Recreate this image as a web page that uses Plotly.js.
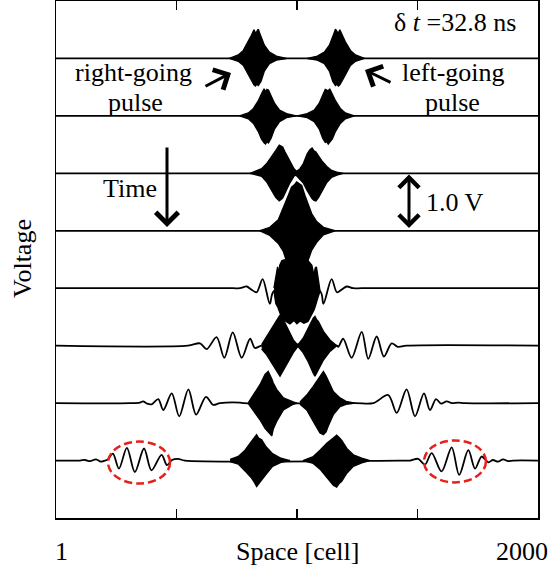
<!DOCTYPE html>
<html>
<head>
<meta charset="utf-8">
<script src="https://cdn.plot.ly/plotly-3.0.1.min.js"></script>
<style>html,body{margin:0;padding:0;background:#fff;}#chart{width:551px;height:578px;}</style>
</head>
<body>
<div id="chart"></div>
<script>
// ---- data (x in cells, voltage offset from each trace's baseline, volts) ----
const bases = [8, 7, 6, 5, 4, 3, 2, 1];   // trace baselines (1.0 V spacing), top = earliest time
const tickCells = [500, 1000, 1500];
const axisEndLabels = ["1", "2000"];

// low-frequency part / baseline of each trace
const flatX = [1, 2000];
const flatY = [0, 0];
const line5X = [1, 735, 764, 792, 810, 833, 858, 888, 905, 1096, 1110, 1144, 1166, 1187, 1207, 1233, 1269, 2000];
const line5Y = [0, 0, 0, 0.03, -0.02, -0.07, 0.16, -0.27, -0.05, -0.05, -0.27, 0.16, -0.07, -0.02, 0.03, 0, 0, 0];
const line6X = [1, 548, 598, 626, 667, 699, 734, 771, 806, 826, 854, 1165, 1172, 1192, 1227, 1269, 1296, 1331, 1361, 1393, 1419, 1455, 2000];
const line6Y = [0, 0, 0.04, -0.06, 0.15, -0.21, 0.23, -0.21, 0.12, -0.04, 0, 0, -0.02, 0.12, -0.21, 0.24, -0.23, 0.16, -0.19, 0.04, -0.02, 0, 0];
const line7X = [1, 308, 349, 362, 379, 398, 425, 446, 481, 512, 550, 582, 623, 653, 681, 764, 780, 1241, 1317, 1379, 1414, 1455, 1490, 1527, 1552, 1577, 1598, 1621, 1643, 1669, 1697, 2000];
const line7Y = [0, 0, 0.01, 0.03, -0.01, -0.02, 0.07, -0.12, 0.17, -0.23, 0.24, -0.2, 0.11, -0.03, 0, 0.01, 0, 0, 0, 0.14, -0.17, 0.24, -0.23, 0.17, -0.12, 0.07, -0.01, 0.03, 0, 0.01, 0, 0];
const line8X = [1, 100, 121, 142, 167, 187, 204, 216, 237, 262, 295, 328, 366, 397, 439, 461, 482, 507, 536, 1428, 1469, 1503, 1531, 1559, 1600, 1642, 1673, 1711, 1739, 1766, 1794, 1813, 1834, 1855, 1876, 1897, 2000];
const line8Y = [0, 0, 0.01, -0.01, 0.02, -0.02, 0, 0.02, 0.12, -0.14, 0.22, -0.2, 0.21, -0.17, 0.1, -0.08, 0.01, 0.03, 0, 0, 0, 0.03, -0.07, 0.13, -0.19, 0.23, -0.25, 0.18, -0.14, 0.07, -0.03, 0.01, -0.02, 0.02, -0.01, 0, 0];

// high-frequency pulses: envelope (upper / lower) of each packet
const p1aX = [720, 757, 778, 799, 811, 822, 828, 834, 840, 851, 865, 886, 915, 956];
const p1aUp = [0, 0.06, 0.14, 0.29, 0.40, 0.50, 0.44, 0.47, 0.51, 0.38, 0.23, 0.11, 0.04, 0];
const p1aLo = [0, -0.05, -0.12, -0.27, -0.38, -0.46, -0.48, -0.45, -0.47, -0.40, -0.22, -0.09, -0.03, 0];
const p1bX = [1044, 1085, 1114, 1135, 1149, 1160, 1166, 1172, 1178, 1189, 1201, 1222, 1243, 1280];
const p1bUp = [0, 0.04, 0.11, 0.23, 0.38, 0.51, 0.47, 0.44, 0.50, 0.40, 0.29, 0.14, 0.06, 0];
const p1bLo = [0, -0.03, -0.09, -0.22, -0.40, -0.47, -0.45, -0.48, -0.46, -0.38, -0.27, -0.12, -0.05, 0];

const p2aX = [762, 799, 820, 841, 853, 864, 870, 876, 882, 893, 907, 928, 957, 998];
const p2aUp = [0, 0.05, 0.13, 0.27, 0.38, 0.47, 0.42, 0.46, 0.45, 0.36, 0.22, 0.10, 0.04, 0];
const p2aLo = [0, -0.05, -0.13, -0.28, -0.40, -0.47, -0.49, -0.45, -0.47, -0.39, -0.23, -0.10, -0.03, 0];
const p2bX = [1002, 1043, 1072, 1093, 1107, 1118, 1124, 1130, 1136, 1147, 1159, 1180, 1201, 1238];
const p2bUp = [0, 0.04, 0.10, 0.22, 0.36, 0.46, 0.45, 0.43, 0.47, 0.38, 0.27, 0.13, 0.05, 0];
const p2bLo = [0, -0.03, -0.10, -0.23, -0.39, -0.46, -0.45, -0.49, -0.47, -0.40, -0.28, -0.13, -0.05, 0];

const p3aX = [806, 826, 854, 875, 896, 913, 927, 941, 951, 969, 988, 1005];
const p3aUp = [0, 0.03, 0.08, 0.17, 0.29, 0.40, 0.49, 0.46, 0.37, 0.23, 0.08, 0.01];
const p3aLo = [0, -0.02, -0.05, -0.15, -0.30, -0.42, -0.48, -0.43, -0.34, -0.18, -0.05, -0.01];
const p3bX = [992, 1013, 1027, 1043, 1054, 1063, 1071, 1079, 1090, 1103, 1124, 1144, 1166, 1192];
const p3bUp = [0.01, 0.08, 0.17, 0.34, 0.41, 0.44, 0.39, 0.37, 0.30, 0.22, 0.12, 0.05, 0.02, 0];
const p3bLo = [-0.01, -0.10, -0.17, -0.30, -0.38, -0.44, -0.47, -0.48, -0.42, -0.33, -0.16, -0.07, -0.03, 0];

const p4X = [847, 888, 923, 944, 956, 964, 978, 990, 999, 1009, 1020, 1033, 1041, 1052, 1061, 1082, 1110, 1158];
const p4Up = [0, 0.06, 0.19, 0.39, 0.52, 0.61, 0.76, 0.80, 0.85, 0.82, 0.79, 0.62, 0.53, 0.40, 0.30, 0.16, 0.06, 0];
const p4Lo = [0, -0.08, -0.22, -0.36, -0.52, -0.62, -0.74, -0.78, -0.79, -0.78, -0.74, -0.66, -0.58, -0.45, -0.34, -0.20, -0.07, 0];

const p5X = [905, 913, 920, 925, 929, 938, 955, 971, 988, 1000, 1013, 1029, 1046, 1062, 1071, 1076, 1081, 1088, 1096];
const p5Up = [0, 0.20, 0.37, 0.22, 0.40, 0.48, 0.50, 0.50, 0.50, 0.50, 0.50, 0.50, 0.48, 0.40, 0.22, 0.35, 0.37, 0.20, 0];
const p5Lo = [-0.05, -0.27, -0.32, -0.36, -0.40, -0.52, -0.58, -0.62, -0.56, -0.62, -0.57, -0.61, -0.58, -0.45, -0.38, -0.32, -0.27, -0.15, -0.05];

const p6aX = [854, 875, 895, 916, 924, 930, 936, 944, 964, 985, 1006];
const p6aUp = [0.02, 0.16, 0.31, 0.45, 0.50, 0.53, 0.46, 0.45, 0.28, 0.10, 0];
const p6aLo = [-0.06, -0.16, -0.29, -0.44, -0.49, -0.53, -0.50, -0.43, -0.28, -0.12, 0];
const p6bX = [994, 1006, 1026, 1047, 1068, 1075, 1082, 1089, 1110, 1137, 1165];
const p6bUp = [0, 0.02, 0.13, 0.31, 0.48, 0.51, 0.45, 0.42, 0.25, 0.10, 0];
const p6bLo = [0, -0.02, -0.12, -0.28, -0.48, -0.53, -0.47, -0.42, -0.25, -0.10, 0];

const p7aX = [799, 819, 847, 868, 881, 896, 902, 916, 944, 985, 1000];
const p7aUp = [0.01, 0.14, 0.32, 0.50, 0.55, 0.42, 0.35, 0.24, 0.09, 0.02, 0];
const p7aLo = [-0.01, -0.12, -0.29, -0.44, -0.50, -0.57, -0.45, -0.32, -0.12, -0.02, 0];
const p7bX = [1013, 1041, 1068, 1096, 1110, 1121, 1130, 1151, 1179, 1204, 1241];
const p7bUp = [0.02, 0.14, 0.29, 0.46, 0.55, 0.47, 0.38, 0.20, 0.09, 0.03, 0];
const p7bLo = [-0.02, -0.12, -0.32, -0.52, -0.55, -0.50, -0.40, -0.20, -0.06, -0.02, 0];

const p8aX = [723, 757, 785, 813, 824, 833, 841, 854, 872, 899, 934, 971];
const p8aUp = [0.02, 0.07, 0.18, 0.33, 0.40, 0.45, 0.39, 0.36, 0.24, 0.12, 0.04, 0];
const p8aLo = [-0.02, -0.06, -0.18, -0.31, -0.38, -0.45, -0.40, -0.34, -0.24, -0.10, -0.03, 0];
const p8bX = [1025, 1068, 1096, 1124, 1151, 1165, 1175, 1186, 1207, 1234, 1269, 1303];
const p8bUp = [0, 0.07, 0.18, 0.30, 0.39, 0.44, 0.40, 0.35, 0.21, 0.10, 0.04, 0];
const p8bLo = [0, -0.05, -0.15, -0.30, -0.43, -0.46, -0.40, -0.36, -0.22, -0.10, -0.04, 0];

// ---- build traces ----
const lines = [
  [flatX, flatY], [flatX, flatY], [flatX, flatY], [flatX, flatY],
  [line5X, line5Y], [line6X, line6Y], [line7X, line7Y], [line8X, line8Y]
];
const packets = [
  [[p1aX, p1aUp, p1aLo], [p1bX, p1bUp, p1bLo]],
  [[p2aX, p2aUp, p2aLo], [p2bX, p2bUp, p2bLo]],
  [[p3aX, p3aUp, p3aLo], [p3bX, p3bUp, p3bLo]],
  [[p4X, p4Up, p4Lo]],
  [[p5X, p5Up, p5Lo]],
  [[p6aX, p6aUp, p6aLo], [p6bX, p6bUp, p6bLo]],
  [[p7aX, p7aUp, p7aLo], [p7bX, p7bUp, p7bLo]],
  [[p8aX, p8aUp, p8aLo], [p8bX, p8bUp, p8bLo]]
];

const data = [];
bases.forEach((b, i) => {
  const [lx, ly] = lines[i];
  data.push({
    x: lx, y: ly.map(v => b + v), mode: 'lines', type: 'scatter',
    line: {color: '#000', width: 1.8, shape: i >= 4 ? 'spline' : 'linear', smoothing: 0.9},
    hoverinfo: 'skip', showlegend: false
  });
  packets[i].forEach(([px, up, lo]) => {
    data.push({
      x: px.concat(px.slice().reverse()),
      y: up.map(v => b + v).concat(lo.map(v => b + v).reverse()),
      mode: 'lines', type: 'scatter', fill: 'toself', fillcolor: '#000',
      line: {color: '#000', width: 1.4},
      hoverinfo: 'skip', showlegend: false
    });
  });
});

// ---- layout helpers (page pixels -> paper) ----
const L = 56, R = 538, T = 1, B = 518;
const pxX = p => (p - L) / (R - L);
const pxY = p => (B - p) / (B - T);
const FONT = 'Liberation Serif, Times New Roman, serif';
const FS = 26;

function label(text, cx, baseline, extra) {
  return Object.assign({
    text: text, xref: 'paper', yref: 'paper', x: pxX(cx), y: pxY(baseline - 0.3 * FS),
    xanchor: 'center', yanchor: 'middle', showarrow: false,
    font: {family: FONT, size: FS, color: '#000'}
  }, extra || {});
}
function arrow(hx, hy, tx, ty, both) {
  const a = {
    text: '', xref: 'paper', yref: 'paper', x: pxX(hx), y: pxY(hy),
    ax: tx - hx, ay: ty - hy, axref: 'pixel', ayref: 'pixel',
    showarrow: true, arrowhead: 4, arrowsize: 1.45, arrowwidth: 3, arrowcolor: '#000', standoff: 0
  };
  if (both) { a.arrowside = 'end+start'; a.startarrowhead = 4; a.startarrowsize = 1.3; a.startstandoff = 0; a.arrowsize = 1.3; }
  return a;
}

const annotations = [
  label('δ <i>t</i> =32.8 ns', 455, 30),
  label('right-going', 133, 80),
  label('pulse', 135, 110.5),
  label('left-going', 453, 80),
  label('pulse', 452, 110.5),
  label('Time', 130, 196.5),
  label('1.0 V', 455, 210),
  label('Space [cell]', 297, 559),
  label(axisEndLabels[0], 61.5, 559),
  label(axisEndLabels[1], 522, 559),
  {text: 'Voltage', xref: 'paper', yref: 'paper', x: pxX(22), y: pxY(259), textangle: -90,
   xanchor: 'center', yanchor: 'middle', showarrow: false, font: {family: FONT, size: FS, color: '#000'}},
  arrow(231, 73, 204, 87),
  arrow(365, 70, 392, 83),
  arrow(167, 227, 167, 146),
  arrow(409, 228, 409, 173, true)
];

const red = '#e8201c';
const shapes = [
  {type: 'circle', xref: 'x', yref: 'y', x0: 217, x1: 474, y0: 0.6, y1: 1.33,
   line: {color: red, width: 2.5, dash: '8px,4px'}},
  {type: 'circle', xref: 'x', yref: 'y', x0: 1527, x1: 1784, y0: 0.62, y1: 1.35,
   line: {color: red, width: 2.5, dash: '8px,4px'}}
];

const layout = {
  width: 551, height: 578,
  margin: {l: L, r: 551 - R, t: T, b: 578 - B, pad: 0},
  paper_bgcolor: '#fff', plot_bgcolor: '#fff',
  showlegend: false,
  xaxis: {range: [1, 2000], tickvals: tickCells, ticks: 'inside', ticklen: 9, tickwidth: 1.5,
          tickcolor: '#000', showticklabels: false, showline: true, linecolor: '#000', linewidth: 1.5,
          mirror: 'ticks', showgrid: false, zeroline: false, fixedrange: true},
  yaxis: {range: [0, 9], showticklabels: false, ticks: '', showline: true, linecolor: '#000',
          linewidth: 1.5, mirror: true, showgrid: false, zeroline: false, fixedrange: true},
  annotations: annotations,
  shapes: shapes
};

Plotly.newPlot('chart', data, layout, {staticPlot: true, displayModeBar: false});
</script>
</body>
</html>
